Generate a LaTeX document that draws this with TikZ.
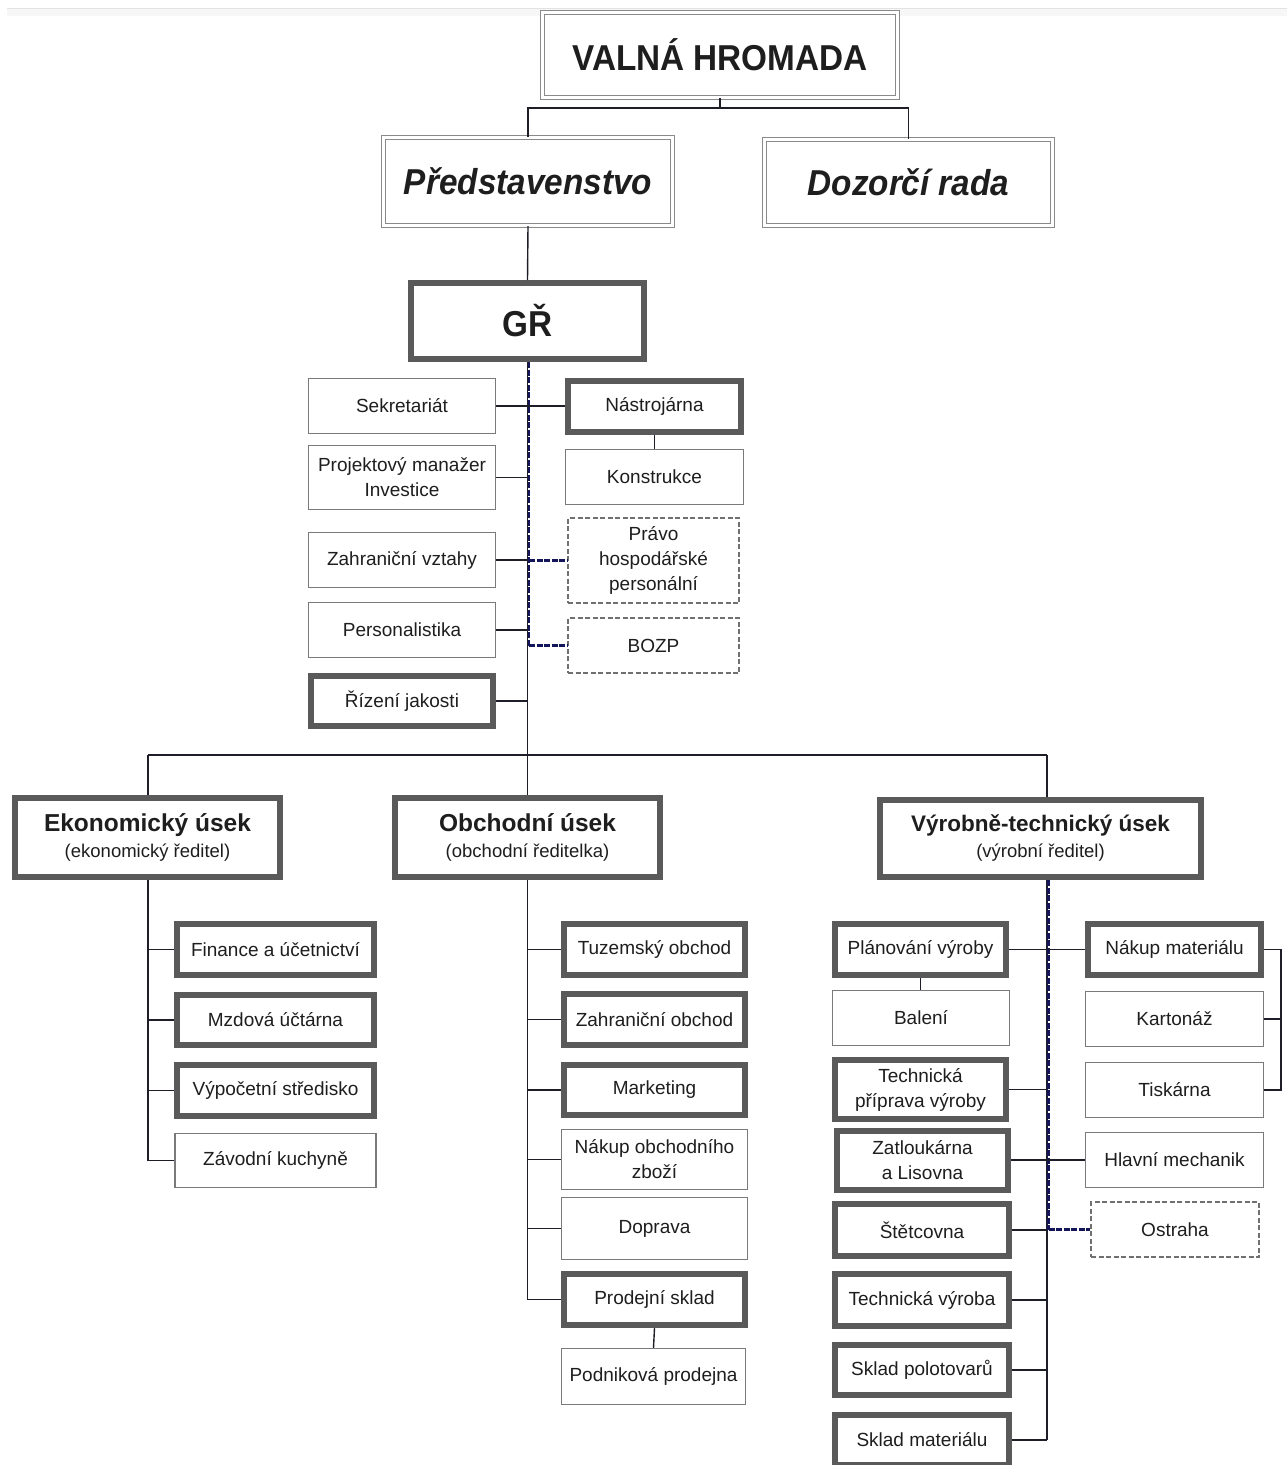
\documentclass[tikz,border=0pt]{standalone}
\usepackage{fontspec}
\setmainfont{Liberation Sans}
\usepackage{graphicx}
\definecolor{txt}{HTML}{1E1E1E}
\definecolor{thinc}{HTML}{7A7A7A}
\definecolor{thickc}{HTML}{5A5A5A}
\definecolor{dashc}{HTML}{707070}
\definecolor{dblc}{HTML}{8A8A8A}
\definecolor{connc}{HTML}{1E1E28}
\definecolor{navyc}{HTML}{14145A}
\newcommand\bigtitle[1]{\scalebox{0.925}[1]{\fontsize{36}{40}\selectfont\bfseries #1}}
\newcommand\bigital[1]{\scalebox{0.925}[1]{\fontsize{36}{40}\selectfont\bfseries\itshape #1}}
\newcommand\divtitle[3]{{\fontsize{#3}{#3}\selectfont\bfseries #1}\\[1pt]{\fontsize{18.5}{20}\selectfont #2}}
\tikzset{
  base/.style={rectangle, fill=white, inner sep=0pt, align=center, text=txt,
    font=\fontsize{19}{25}\selectfont},
  thinbox/.style={base, draw=thinc, line width=1.2pt},
  thickbox/.style={base, draw=thickc, line width=6pt},
  dashbox/.style={base, draw=dashc, line width=2pt, dash pattern=on 5pt off 2.5pt},
  dblbox/.style={base, draw=dblc, double=white, double distance=2.5pt, line width=1.2pt},
  conn/.style={draw=connc, line width=1.4pt},
  navyd/.style={draw=navyc, line width=2.4pt, dash pattern=on 6pt off 1.5pt},
  sz/.style 2 args={minimum width=#1, minimum height=#2},
}
\begin{document}
\begin{tikzpicture}[x=1pt,y=-1pt]
\useasboundingbox (0,0) rectangle (1287,1465);
% faint rule along the top edge
\fill[black!3] (7,9) rectangle (1287,16);
\draw[black!11, line width=1.5pt] (7,8.5) -- (1287,8.5);

% ---- governing bodies ----
\node[dblbox, sz={355}{85}] (vh) at (720,55) {\bigtitle{VALNÁ HROMADA}};
\node[dblbox, sz={289}{88}] (pred) at (528,181.5) {\bigital{Představenstvo}};
\node[dblbox, sz={288}{86}] (doz) at (908.5,182.5) {\bigital{Dozorčí rada}};
\node[thickbox, sz={233}{76}] (gr) at (527.5,321) {\bigtitle{GŘ}};

% ---- staff units under GŘ ----
\node[thinbox, sz={187}{55}] (sek) at (402,406) {Sekretariát};
\node[thinbox, sz={187}{64}] (pm) at (402,477.5) {Projektový manažer\\Investice};
\node[thinbox, sz={187}{55}] (zv) at (402,560) {Zahraniční vztahy};
\node[thinbox, sz={187}{55}] (per) at (402,630) {Personalistika};
\node[thickbox, sz={182}{50}] (rj) at (402,701) {Řízení jakosti};

\node[thickbox, sz={173}{51}] (nas) at (654.5,406) {Nástrojárna};
\node[thinbox, sz={178}{55}] (kon) at (654.5,477) {Konstrukce};
\node[dashbox, sz={171}{85}] (pr) at (653.5,560.5) {Právo\\hospodářské\\personální};
\node[dashbox, sz={171}{55}] (bz) at (653.5,645.5) {BOZP};

% ---- divisions ----
\node[thickbox, sz={265}{79}] (eko) at (147.5,837.5)
  {\divtitle{Ekonomický úsek}{(ekonomický ředitel)}{24.5}};
\node[thickbox, sz={265}{79}] (obc) at (527.5,837.5)
  {\divtitle{Obchodní úsek}{(obchodní ředitelka)}{24.5}};
\node[thickbox, sz={321}{77}] (vyr) at (1040.5,838.5)
  {\divtitle{Výrobně-technický úsek}{(výrobní ředitel)}{22.5}};

% economic division
\node[thickbox, sz={197}{51}] (fin) at (275.5,949.5) {Finance a účetnictví};
\node[thickbox, sz={197}{50}] (mzd) at (275.5,1020) {Mzdová účtárna};
\node[thickbox, sz={197}{51}] (vyp) at (275.5,1090.5) {Výpočetní středisko};
\node[thinbox, sz={201}{54}] (zk) at (275.5,1160.5) {Závodní kuchyně};

% commercial division
\node[thickbox, sz={181}{51}] (tuz) at (654.5,949.5) {Tuzemský obchod};
\node[thickbox, sz={181}{51}] (zo) at (654.5,1019.5) {Zahraniční obchod};
\node[thickbox, sz={181}{50}] (mkt) at (654.5,1090) {Marketing};
\node[thinbox, sz={186}{60}] (noz) at (654.5,1159.5) {Nákup obchodního\\zboží};
\node[thinbox, sz={186}{62}] (dop) at (654.5,1228.5) {Doprava};
\node[thickbox, sz={181}{51}] (ps) at (654.5,1299.5) {Prodejní sklad};
\node[thinbox, sz={184}{56}] (pp) at (653.5,1376.5) {Podniková prodejna};

% production division, left column
\node[thickbox, sz={171}{51}] (plv) at (920.5,949.5) {Plánování výroby};
\node[thinbox, sz={177}{55}] (bal) at (921,1018) {Balení};
\node[thickbox, sz={171}{59}] (tpv) at (920.5,1089.5) {Technická\\příprava výroby};
\node[thickbox, sz={171}{59}] (zat) at (922.5,1160) {Zatloukárna\\a Lisovna};
\node[thickbox, sz={174}{52}] (ste) at (922,1230) {Štětcovna};
\node[thickbox, sz={174}{52}] (tv) at (922,1300) {Technická výroba};
\node[thickbox, sz={174}{50}] (spo) at (922,1370) {Sklad polotovarů};
\node[thickbox, sz={174}{50}] (sm) at (922,1440) {Sklad materiálu};

% production division, right column
\node[thickbox, sz={173}{51}] (nm) at (1174.5,949.5) {Nákup materiálu};
\node[thinbox, sz={178}{55}] (kar) at (1174.5,1019) {Kartonáž};
\node[thinbox, sz={178}{55}] (tis) at (1174.5,1090) {Tiskárna};
\node[thinbox, sz={178}{55}] (hm) at (1174.5,1160) {Hlavní mechanik};
\node[dashbox, sz={168}{55}] (os) at (1175,1229.5) {Ostraha};

% ---- connectors ----
\coordinate (vhj) at (720,108);
\coordinate (barL) at (148,755);
\coordinate (barR) at (1047,755);
\coordinate (brk) at (1281,949.5);

\draw[conn] (vh.south) -- (vhj);
\draw[conn] (pred.north) |- (vhj) -| (doz.north);
\draw[conn] (pred.south) -- (gr.north);

% main trunk from GŘ to the division bar
\draw[conn] (gr.south) -- (gr.south |- barL);
\coordinate (gtr) at ([xshift=1.6pt]gr.south);
\draw[navyd] (gtr) -- (gtr |- bz.west);
\draw[conn] (sek.east) -- (nas.west);
\draw[conn] (nas.south) -- (kon.north);
\draw[conn] (pm.east) -- (pm.east -| gr.south);
\draw[conn] (zv.east) -- (zv.east -| gr.south);
\draw[navyd] (gtr |- pr.west) -- (pr.west);
\draw[conn] (per.east) -- (per.east -| gr.south);
\draw[navyd] (gtr |- bz.west) -- (bz.west);
\draw[conn] (rj.east) -- (rj.east -| gr.south);

% division bar
\draw[conn] (barL) -- (barR);
\draw[conn] (barL) -- (eko.north -| barL);
\draw[conn] (gr.south |- barL) -- (obc.north);
\draw[conn] (barR) -- (vyr.north -| barR);

% economic division
\draw[conn] (eko.south -| barL) -- (barL |- zk.west);
\foreach \n in {fin,mzd,vyp,zk}
  \draw[conn] (barL |- \n.west) -- (\n.west);

% commercial division
\draw[conn] (obc.south) -- (obc.south |- ps.west);
\foreach \n in {tuz,zo,mkt,noz,dop,ps}
  \draw[conn] (obc.south |- \n.west) -- (\n.west);
\draw[conn] (ps.south) -- (pp.north);

% production division
\coordinate (vt) at (vyr.south -| barR);
\coordinate (vtn) at ([xshift=1.6pt]vt);
\draw[conn] (vt) -- (vt |- sm.east);
\draw[navyd] (vtn) -- (vtn |- os.west);
\draw[conn] (plv.east) -- (nm.west);
\draw[conn] (plv.south) -- (bal.north -| plv.south);
\foreach \n in {tpv,ste,tv,spo,sm}
  \draw[conn] (\n.east) -- (\n.east -| vt);
\draw[conn] (zat.east) -- (hm.west);
\draw[navyd] (vtn |- os.west) -- (os.west);
\draw[conn] (nm.east) -- (brk) |- (tis.east);
\draw[conn] (kar.east) -- (kar.east -| brk);
\end{tikzpicture}
\end{document}
